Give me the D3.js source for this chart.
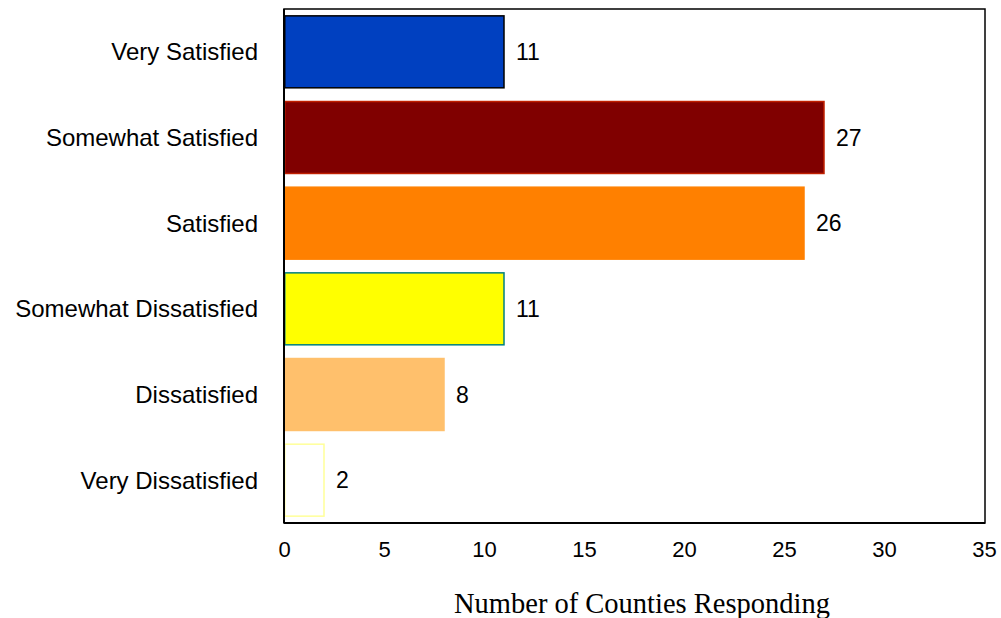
<!DOCTYPE html>
<html>
<head>
<meta charset="utf-8">
<script src="https://cdn.jsdelivr.net/npm/d3@7/dist/d3.min.js"></script>
<style>
  html, body { margin: 0; padding: 0; background: #fff; }
  svg { display: block; }
</style>
</head>
<body>
<svg id="chart" width="1001" height="618"></svg>
<script>
// Satisfaction categories, top to bottom
const categories = [
  "Very Satisfied",
  "Somewhat Satisfied",
  "Satisfied",
  "Somewhat Dissatisfied",
  "Dissatisfied",
  "Very Dissatisfied"
];
// Number of counties per category
const counts = [11, 27, 26, 11, 8, 2];
const fills   = ["#0040c0", "#800000", "#ff8000", "#ffff00", "#ffc06c", "#ffffff"];
const strokes = ["#000000", "#c02000", "#ff8000", "#008080", "#ffc06c", "#ffff99"];
const xTicks = [0, 5, 10, 15, 20, 25, 30, 35];
const xTitle = "Number of Counties Responding";

const svg = d3.select("#chart");
const plot = { left: 284, right: 985, top: 9, bottom: 523 };
const sans = "Liberation Sans, Arial, sans-serif";

const x = d3.scaleLinear().domain([0, 35]).range([plot.left, plot.left + 700]);
const y = d3.scaleBand().domain(categories).range([plot.top, plot.bottom]).paddingInner(0.16).paddingOuter(0.08);

const rows = categories.map((c, i) => ({ c, v: counts[i], fill: fills[i], stroke: strokes[i] }));

// Frame: thin top/right, heavier left/bottom axis lines
svg.append("rect")
  .attr("x", plot.left).attr("y", plot.top)
  .attr("width", plot.right - plot.left).attr("height", plot.bottom - plot.top)
  .attr("fill", "none").attr("stroke", "#000").attr("stroke-width", 1.5);

// Bars
svg.append("g").selectAll("rect").data(rows).join("rect")
  .attr("x", x(0) + 0.75)
  .attr("y", d => y(d.c))
  .attr("width", d => x(d.v) - x(0) - 0.75)
  .attr("height", y.bandwidth())
  .attr("fill", d => d.fill)
  .attr("stroke", d => d.stroke)
  .attr("stroke-width", 1.5);

// Left and bottom axis lines
svg.append("line").attr("x1", plot.left).attr("x2", plot.left)
  .attr("y1", plot.top).attr("y2", plot.bottom).attr("stroke", "#000").attr("stroke-width", 2);
svg.append("line").attr("x1", plot.left).attr("x2", plot.right)
  .attr("y1", plot.bottom).attr("y2", plot.bottom).attr("stroke", "#000").attr("stroke-width", 2);

// Value labels
svg.append("g").selectAll("text").data(rows).join("text")
  .attr("x", d => x(d.v) + 12)
  .attr("y", d => y(d.c) + y.bandwidth() / 2)
  .attr("dy", "0.35em")
  .attr("font-family", sans)
  .attr("font-size", 23)
  .attr("fill", "#000")
  .text(d => d.v);

// Category labels
svg.append("g").selectAll("text").data(rows).join("text")
  .attr("x", 258)
  .attr("y", d => y(d.c) + y.bandwidth() / 2)
  .attr("dy", "0.35em")
  .attr("text-anchor", "end")
  .attr("font-family", sans)
  .attr("font-size", 24)
  .attr("fill", "#000")
  .text(d => d.c);

// X tick labels
const xAxis = d3.axisBottom(x).tickValues(xTicks).tickSize(0).tickPadding(18);
const gx = svg.append("g").attr("transform", `translate(0,${plot.bottom})`).call(xAxis);
gx.select(".domain").remove();
gx.selectAll("text")
  .attr("font-family", sans)
  .attr("font-size", 22)
  .attr("fill", "#000");

// Axis title
svg.append("text")
  .attr("x", 642).attr("y", 613)
  .attr("text-anchor", "middle")
  .attr("font-family", "Liberation Serif, Times New Roman, serif")
  .attr("font-size", 28.5)
  .attr("fill", "#000")
  .text(xTitle);
</script>
</body>
</html>
